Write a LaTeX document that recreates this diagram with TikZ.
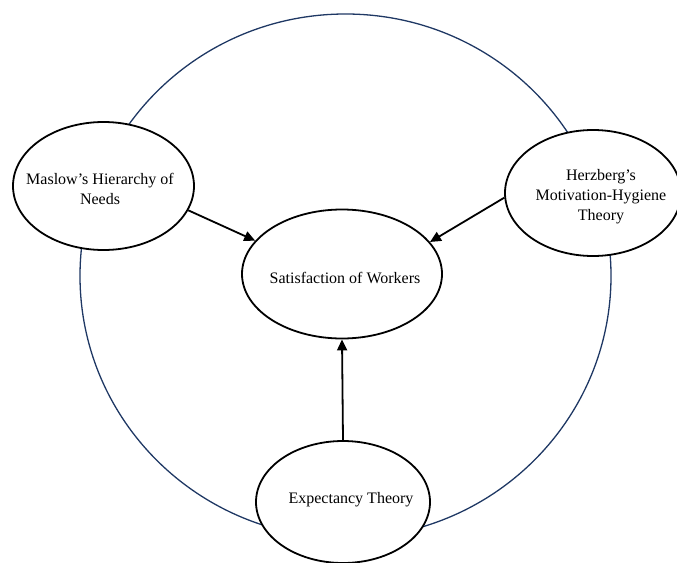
\documentclass[tikz,border=0pt]{standalone}
\usepackage{fontspec}
\setmainfont{Liberation Serif}
\usetikzlibrary{shapes.geometric,arrows.meta}
\definecolor{navy}{HTML}{1F3864}
\tikzset{
  ell/.style={ellipse,draw=black,line width=1.8pt,fill=white,inner sep=0pt},
  txt/.style={align=center,inner sep=0pt,font=\fontsize{16}{20}\selectfont},
  arr/.style={line width=1.8pt,-{Triangle[length=11pt,width=10pt]}}
}
\begin{document}
\begin{tikzpicture}[x=1pt,y=-1pt]
\useasboundingbox (0,0) rectangle (677,562);
% outer ring
\node[ellipse,draw=navy,line width=1.3pt,minimum width=531pt,minimum height=524pt,inner sep=0pt] (ring) at (345.5,276) {};
% ellipses
\node[ell,minimum width=181pt,minimum height=128pt] (mas) at (103.5,186) {};
\node[ell,minimum width=176pt,minimum height=126pt] (her) at (593,193) {};
\node[ell,minimum width=200pt,minimum height=129pt] (sat) at (342,274) {};
\node[ell,minimum width=174pt,minimum height=122pt] (exp) at (343,502) {};
% texts
\node[txt] (tmas) at (100,189) {Maslow’s Hierarchy of\\Needs};
\node[txt] (ther) at (601,197) {Herzberg’s\\Motivation-Hygiene\\Theory};
\node[txt] (tsat) at (345,278) {Satisfaction of Workers};
\node[txt] (texp) at (351,500) {Expectancy Theory};
% arrows
\draw[arr] (mas.-16) -- (sat.159);
\draw[arr] (her.183) -- (sat.20);
\draw[arr] (exp.north) -- (sat.south);
\end{tikzpicture}
\end{document}
